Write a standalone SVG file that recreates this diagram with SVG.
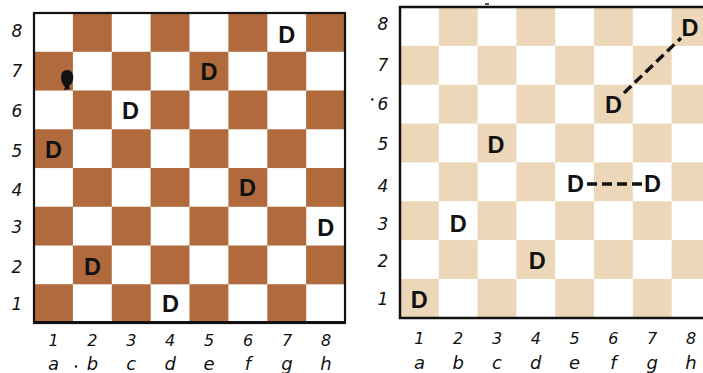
<svg xmlns="http://www.w3.org/2000/svg" width="703" height="373" viewBox="0 0 703 373">
<style>
.dk{fill:#b06a3c}
.lt{fill:#ecd7b8}
.pc{font-family:"Liberation Sans",Arial,sans-serif;font-weight:bold;font-size:23.5px;text-anchor:middle;fill:#111}
.lb{font-family:"DejaVu Sans",sans-serif;font-style:italic;font-size:17px;text-anchor:middle;fill:#111}
.fn{font-family:"DejaVu Sans",sans-serif;font-style:italic;font-size:16px;text-anchor:middle;fill:#111}
.fl{font-family:"DejaVu Sans",sans-serif;font-style:italic;font-size:18px;text-anchor:middle;fill:#111}
.dash{stroke:#111;stroke-width:3.4;fill:none;stroke-dasharray:10 5}
</style>
<rect width="703" height="373" fill="#ffffff"/>
<g id="board-left">
<g id="left-squares">
<rect class="dk" x="72.9" y="13" width="38.9" height="38.8"/><rect class="dk" x="150.6" y="13" width="38.9" height="38.8"/><rect class="dk" x="228.4" y="13" width="38.9" height="38.8"/><rect class="dk" x="306.1" y="13" width="38.9" height="38.8"/>
<rect class="dk" x="34" y="51.75" width="38.9" height="38.8"/><rect class="dk" x="111.8" y="51.75" width="38.9" height="38.8"/><rect class="dk" x="189.5" y="51.75" width="38.9" height="38.8"/><rect class="dk" x="267.3" y="51.75" width="38.9" height="38.8"/>
<rect class="dk" x="72.9" y="90.5" width="38.9" height="38.8"/><rect class="dk" x="150.6" y="90.5" width="38.9" height="38.8"/><rect class="dk" x="228.4" y="90.5" width="38.9" height="38.8"/><rect class="dk" x="306.1" y="90.5" width="38.9" height="38.8"/>
<rect class="dk" x="34" y="129.25" width="38.9" height="38.8"/><rect class="dk" x="111.8" y="129.25" width="38.9" height="38.8"/><rect class="dk" x="189.5" y="129.25" width="38.9" height="38.8"/><rect class="dk" x="267.3" y="129.25" width="38.9" height="38.8"/>
<rect class="dk" x="72.9" y="168" width="38.9" height="38.8"/><rect class="dk" x="150.6" y="168" width="38.9" height="38.8"/><rect class="dk" x="228.4" y="168" width="38.9" height="38.8"/><rect class="dk" x="306.1" y="168" width="38.9" height="38.8"/>
<rect class="dk" x="34" y="206.75" width="38.9" height="38.8"/><rect class="dk" x="111.8" y="206.75" width="38.9" height="38.8"/><rect class="dk" x="189.5" y="206.75" width="38.9" height="38.8"/><rect class="dk" x="267.3" y="206.75" width="38.9" height="38.8"/>
<rect class="dk" x="72.9" y="245.5" width="38.9" height="38.8"/><rect class="dk" x="150.6" y="245.5" width="38.9" height="38.8"/><rect class="dk" x="228.4" y="245.5" width="38.9" height="38.8"/><rect class="dk" x="306.1" y="245.5" width="38.9" height="38.8"/>
<rect class="dk" x="34" y="284.25" width="38.9" height="38.8"/><rect class="dk" x="111.8" y="284.25" width="38.9" height="38.8"/><rect class="dk" x="189.5" y="284.25" width="38.9" height="38.8"/><rect class="dk" x="267.3" y="284.25" width="38.9" height="38.8"/>
</g>
<rect x="34" y="13" width="311" height="310" fill="none" stroke="#111" stroke-width="2.2"/>
<line x1="33" y1="322.5" x2="346" y2="322.5" stroke="#111" stroke-width="3"/>
<g id="left-pieces">
<text class="pc" x="286.8" y="43">D</text>
<text class="pc" x="209" y="79.6">D</text>
<text class="pc" x="130.5" y="118.7">D</text>
<text class="pc" x="53.5" y="157.7">D</text>
<text class="pc" x="247.5" y="195.7">D</text>
<text class="pc" x="325.7" y="236">D</text>
<text class="pc" x="92.4" y="275">D</text>
<text class="pc" x="170.5" y="312">D</text>
<path d="M67,70 C72,70 74,75 73,80 C72,84 70,85 69,86 L70,89 L64,90 L65,87 C63,85 61,82 61,77 C61,73 63,70 67,70 Z" fill="#111"/>
</g>
<g id="left-ranks">
<text class="lb" x="17" y="37.3">8</text>
<text class="lb" x="17" y="77.3">7</text>
<text class="lb" x="17" y="116.7">6</text>
<text class="lb" x="17" y="157">5</text>
<text class="lb" x="17" y="195.7">4</text>
<text class="lb" x="17" y="233.3">3</text>
<text class="lb" x="17" y="272.7">2</text>
<text class="lb" x="17" y="310">1</text>
</g>
<g id="left-files">
<text class="fn" x="53.5" y="346">1</text><text class="fn" x="92.4" y="346">2</text><text class="fn" x="131.3" y="346">3</text><text class="fn" x="170.2" y="346">4</text><text class="fn" x="209" y="346">5</text><text class="fn" x="248" y="346">6</text><text class="fn" x="287" y="346">7</text><text class="fn" x="326" y="346">8</text>
<text class="fl" x="53.5" y="370">a</text><text class="fl" x="92.4" y="370">b</text><text class="fl" x="131.3" y="370">c</text><text class="fl" x="170.2" y="370">d</text><text class="fl" x="209" y="370">e</text><text class="fl" x="248" y="370">f</text><text class="fl" x="287" y="370">g</text><text class="fl" x="326" y="370">h</text>
<circle cx="76" cy="366.5" r="1.2" fill="#111"/>
</g>
</g>
<g id="board-right">
<g id="right-squares">
<rect class="lt" x="438.8" y="7" width="38.8" height="38.85"/><rect class="lt" x="516.4" y="7" width="38.8" height="38.85"/><rect class="lt" x="594" y="7" width="38.8" height="38.85"/><rect class="lt" x="671.6" y="7" width="38.8" height="38.85"/>
<rect class="lt" x="400" y="45.85" width="38.8" height="38.85"/><rect class="lt" x="477.6" y="45.85" width="38.8" height="38.85"/><rect class="lt" x="555.2" y="45.85" width="38.8" height="38.85"/><rect class="lt" x="632.8" y="45.85" width="38.8" height="38.85"/>
<rect class="lt" x="438.8" y="84.7" width="38.8" height="38.85"/><rect class="lt" x="516.4" y="84.7" width="38.8" height="38.85"/><rect class="lt" x="594" y="84.7" width="38.8" height="38.85"/><rect class="lt" x="671.6" y="84.7" width="38.8" height="38.85"/>
<rect class="lt" x="400" y="123.55" width="38.8" height="38.85"/><rect class="lt" x="477.6" y="123.55" width="38.8" height="38.85"/><rect class="lt" x="555.2" y="123.55" width="38.8" height="38.85"/><rect class="lt" x="632.8" y="123.55" width="38.8" height="38.85"/>
<rect class="lt" x="438.8" y="162.4" width="38.8" height="38.85"/><rect class="lt" x="516.4" y="162.4" width="38.8" height="38.85"/><rect class="lt" x="594" y="162.4" width="38.8" height="38.85"/><rect class="lt" x="671.6" y="162.4" width="38.8" height="38.85"/>
<rect class="lt" x="400" y="201.25" width="38.8" height="38.85"/><rect class="lt" x="477.6" y="201.25" width="38.8" height="38.85"/><rect class="lt" x="555.2" y="201.25" width="38.8" height="38.85"/><rect class="lt" x="632.8" y="201.25" width="38.8" height="38.85"/>
<rect class="lt" x="438.8" y="240.1" width="38.8" height="38.85"/><rect class="lt" x="516.4" y="240.1" width="38.8" height="38.85"/><rect class="lt" x="594" y="240.1" width="38.8" height="38.85"/><rect class="lt" x="671.6" y="240.1" width="38.8" height="38.85"/>
<rect class="lt" x="400" y="278.95" width="38.8" height="38.85"/><rect class="lt" x="477.6" y="278.95" width="38.8" height="38.85"/><rect class="lt" x="555.2" y="278.95" width="38.8" height="38.85"/><rect class="lt" x="632.8" y="278.95" width="38.8" height="38.85"/>
</g>
<path d="M703,7 H400 V318 H703" fill="none" stroke="#111" stroke-width="2.5"/>
<g id="connectors">
<line class="dash" x1="624" y1="93" x2="681" y2="38"/>
<line class="dash" x1="587" y1="184" x2="643" y2="184"/>
</g>
<g id="right-pieces">
<text class="pc" x="690" y="35.5">D</text>
<text class="pc" x="613.5" y="112.5">D</text>
<text class="pc" x="496" y="152.7">D</text>
<text class="pc" x="575.5" y="192">D</text>
<text class="pc" x="652.5" y="192">D</text>
<text class="pc" x="458.3" y="231.7">D</text>
<text class="pc" x="537.3" y="269">D</text>
<text class="pc" x="419.2" y="308.3">D</text>
</g>
<g id="right-ranks">
<text class="lb" x="383" y="30">8</text>
<text class="lb" x="383" y="71">7</text>
<text class="lb" x="383" y="110">6</text>
<text class="lb" x="383" y="150">5</text>
<text class="lb" x="383" y="191.5">4</text>
<text class="lb" x="383" y="230">3</text>
<text class="lb" x="383" y="267">2</text>
<text class="lb" x="383" y="305">1</text>
<circle cx="372.3" cy="99.5" r="1.2" fill="#111"/>
</g>
<g id="right-files">
<text class="fn" x="419.4" y="344">1</text><text class="fn" x="458.2" y="344">2</text><text class="fn" x="497" y="344">3</text><text class="fn" x="535.8" y="344">4</text><text class="fn" x="574.6" y="344">5</text><text class="fn" x="613.4" y="344">6</text><text class="fn" x="652.2" y="344">7</text><text class="fn" x="691" y="344">8</text>
<text class="fl" x="419.4" y="369">a</text><text class="fl" x="458.2" y="369">b</text><text class="fl" x="497" y="369">c</text><text class="fl" x="535.8" y="369">d</text><text class="fl" x="574.6" y="369">e</text><text class="fl" x="613.4" y="369">f</text><text class="fl" x="652.2" y="369">g</text><text class="fl" x="691" y="369">h</text>
</g>
<line x1="485" y1="4" x2="489" y2="4" stroke="#111" stroke-width="1.5"/>
</g>
</svg>
